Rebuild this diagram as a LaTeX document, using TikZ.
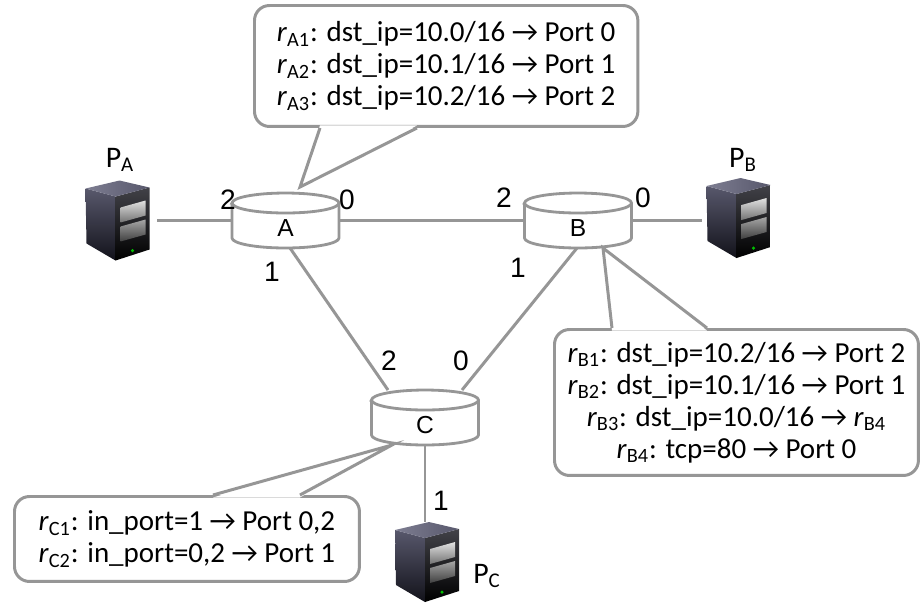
\documentclass[tikz,border=0pt]{standalone}
\usepackage{fontspec}
\setmainfont{Carlito}
\newfontfamily\portfont{Liberation Sans}
\usepackage{tikz}
\usetikzlibrary{backgrounds}
\definecolor{linkgray}{RGB}{150,150,150}
\definecolor{srvtop}{RGB}{88,88,108}
\definecolor{srvbot}{RGB}{18,18,26}
\definecolor{srvlid}{RGB}{125,125,145}
\tikzstyle{link}=[draw=linkgray, line width=1.7pt]
\tikzstyle{rtr}=[minimum width=2.14cm, minimum height=1.1cm, inner sep=0, outer sep=0]
\tikzstyle{rtrline}=[draw=linkgray, line width=1.6pt]
\tikzstyle{rtrlabel}=[font=\portfont\fontsize{14}{16}\selectfont, inner sep=0]
\tikzstyle{port}=[font=\portfont\fontsize{16}{18}\selectfont, inner sep=0]
\tikzstyle{srv}=[minimum width=1.3cm, minimum height=1.6cm, inner sep=0, outer sep=0]
\tikzstyle{srvlabel}=[font=\fontsize{17}{19}\selectfont, inner sep=0]
\tikzstyle{callbox}=[draw=linkgray, line width=1.7pt, rounded corners=0.3cm,
  fill=white, font=\fontsize{16.5}{18.2}\selectfont, align=center, inner sep=0]
\tikzstyle{pointer}=[draw=linkgray, line width=1.7pt, line join=miter]
\tikzset{
  server/.pic={
    % side, front, lid, drive bays, power led
    \shade[top color=srvtop, bottom color=srvbot] (0,8) -- (30,16) -- (30,80) -- (1,63) -- cycle;
    \shade[top color=srvbot!80!white, bottom color=black] (30,16) -- (64,7) -- (64,69) -- (30,80) -- cycle;
    \shade[left color=srvlid, right color=srvtop] (0,8) -- (34,0) -- (64,7) -- (30,16) -- cycle;
    \shade[top color=white!88!black, bottom color=white!45!black] (35,27) -- (60,20) -- (60,35) -- (35,42) -- cycle;
    \shade[top color=white!65!black, bottom color=white!25!black] (35,46) -- (60,39) -- (60,54) -- (35,61) -- cycle;
    \fill[green!75!black] (47,70) circle[radius=0.035cm];
  }
}

\begin{document}
\begin{tikzpicture}[x=0.02cm, y=-0.02cm]
  \useasboundingbox (0,0) rectangle (920,603);

  \node[rtr] (A) at (285.5,220.5) {};
  \node[rtr] (B) at (578,220.5) {};
  \node[rtr] (C) at (425,417.5) {};
  \node[srv] (PA) at (118,220.5) {};
  \node[srv] (PB) at (739,218) {};
  \node[srv] (PC) at (427.5,562) {};

  \begin{pgfonlayer}{background}
    \draw[link, shorten <=0.14cm] (PA.east) -- (A.west);
    \draw[link] (A.east) -- (B.west);
    \draw[link, shorten >=0.1cm] (B.east) -- (B.east -| PB.west);
    \draw[link] ([xshift=0.09cm]A.south) -- ([xshift=-0.74cm]C.north);
    \draw[link] ([xshift=-0.02cm]B.south) -- ([xshift=0.74cm]C.north);
    \draw[link] (C.south) -- (C.south |- PC.north);
    \foreach \r in {A,B,C} {
      \draw[rtrline, fill=white] ([yshift=-0.2cm]\r.north west) -- ([yshift=0.2cm]\r.south west)
        arc[start angle=180, end angle=360, x radius=1.07cm, y radius=0.2cm]
        -- ([yshift=-0.2cm]\r.north east)
        arc[start angle=0, end angle=180, x radius=1.07cm, y radius=0.2cm] -- cycle;
      \draw[rtrline] ([yshift=-0.2cm]\r.north west)
        arc[start angle=180, end angle=360, x radius=1.07cm, y radius=0.2cm];
    }
  \end{pgfonlayer}

  \node[rtrlabel] (lA) at ([yshift=-0.16cm]A) {A};
  \node[rtrlabel] (lB) at ([yshift=-0.16cm]B) {B};
  \node[rtrlabel] (lC) at ([yshift=-0.16cm]C) {C};

  \foreach \h in {PA,PB,PC}
    \pic at (\h.north west) {server};
  \node[srvlabel] (nPA) at (120,160) {P\textsubscript{A}};
  \node[srvlabel] (nPB) at (743,160) {P\textsubscript{B}};
  \node[srvlabel] (nPC) at (487,576) {P\textsubscript{C}};

  % port numbers
  \node[port] (A2) at (228,200) {2};
  \node[port] (A0) at (347,200) {0};
  \node[port] (A1) at (272,272) {1};
  \node[port] (B2) at (504,198) {2};
  \node[port] (B0) at (643,198) {0};
  \node[port] (B1) at (518,268) {1};
  \node[port] (C2) at (389,361) {2};
  \node[port] (C0) at (461,361) {0};
  \node[port] (C1) at (441,501) {1};

  \node[callbox, anchor=north west, inner xsep=0.45cm, minimum height=2.42cm] (cA) at (253,4) {%
    \textit{r}\textsubscript{A1}: dst\_ip=10.0/16 → Port 0\\
    \textit{r}\textsubscript{A2}: dst\_ip=10.1/16 → Port 1\\
    \textit{r}\textsubscript{A3}: dst\_ip=10.2/16 → Port 2};
  \node[callbox, anchor=north west, minimum width=7.28cm, minimum height=2.92cm] (cB) at (553,328) {%
    \textit{r}\textsubscript{B1}: dst\_ip=10.2/16 → Port 2\\
    \textit{r}\textsubscript{B2}: dst\_ip=10.1/16 → Port 1\\
    \textit{r}\textsubscript{B3}: dst\_ip=10.0/16 → \textit{r}\textsubscript{B4}\\
    \textit{r}\textsubscript{B4}: tcp=80 → Port 0};
  \node[callbox, anchor=north west, minimum width=6.9cm, minimum height=1.7cm] (cC) at (13,495) {%
    \textit{r}\textsubscript{C1}: in\_port=1 → Port 0,2\\
    \textit{r}\textsubscript{C2}: in\_port=0,2 → Port 1};

  \coordinate (pA1) at ([xshift=1.34cm]cA.south west);
  \coordinate (pA2) at ([xshift=3.28cm]cA.south west);
  \coordinate (tA) at ([xshift=0.29cm, yshift=0.12cm]A.north);
  \coordinate (pB1) at ([xshift=1.18cm]cB.north west);
  \coordinate (pB2) at ([xshift=3.08cm]cB.north west);
  \coordinate (tB) at ([xshift=0.5cm]B.south);
  \coordinate (pC1) at ([xshift=4cm]cC.north west);
  \coordinate (pC2) at ([xshift=5.74cm]cC.north west);
  \coordinate (tC) at ([xshift=-0.66cm]C.south);
  \foreach \p/\q/\t/\s in {pA1/pA2/tA/0.05cm, pB1/pB2/tB/-0.05cm, pC1/pC2/tC/-0.05cm} {
    \fill[white] ([yshift=\s]\p) -- (\t) -- ([yshift=\s]\q) -- cycle;
    \draw[pointer] (\p) -- (\t) -- (\q);
  }
\end{tikzpicture}
\end{document}
